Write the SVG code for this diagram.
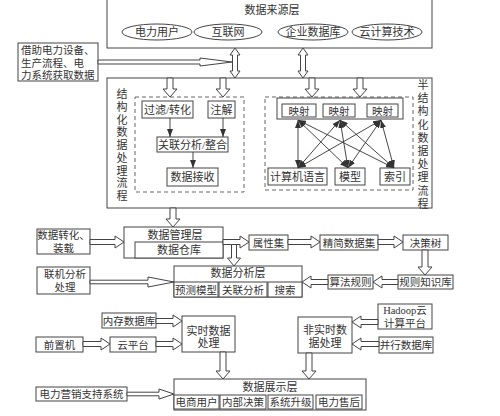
<svg xmlns="http://www.w3.org/2000/svg" width="500" height="416" viewBox="0 0 500 416">
<defs>
<marker id="ah" viewBox="0 0 8 6" refX="8" refY="3" markerWidth="8" markerHeight="6" markerUnits="userSpaceOnUse" orient="auto-start-reverse">
<path d="M0,0 L8,3 L0,6 Z" fill="#333"/>
</marker>
<style>
rect,ellipse{fill:#fff;stroke:#444;stroke-width:1}
.dash{fill:none;stroke:#666;stroke-dasharray:4 3}
.ha{fill:#fff;stroke:#444;stroke-width:1}
.tl{stroke:#333;stroke-width:0.9;fill:none}
text{font-family:"Liberation Serif","Noto Sans CJK SC",serif;font-size:11px;fill:#333;text-anchor:middle}
.s{font-size:10.5px}
.l{text-anchor:start}
</style>
</defs>
<rect width="500" height="416" style="fill:#fff;stroke:none"/>

<g id="source-layer">
<rect x="107" y="-1" width="325" height="49"/>
<text x="272" y="14">数据来源层</text>
<ellipse cx="157" cy="32" rx="35" ry="8"/><text x="157" y="36">电力用户</text>
<ellipse cx="228" cy="32" rx="34" ry="8"/><text x="228" y="36">互联网</text>
<ellipse cx="313" cy="32" rx="35" ry="8"/><text x="313" y="36">企业数据库</text>
<ellipse cx="387" cy="32" rx="35" ry="8"/><text x="387" y="36">云计算技术</text>
</g>

<g id="acquire">
<rect x="18" y="43" width="80" height="38"/>
<text class="s l" x="21" y="54">借助电力设备、</text>
<text class="s l" x="21" y="66.5">生产流程、电</text>
<text class="s l" x="21" y="79">力系统获取数据</text>
</g>

<g id="processing">
<rect x="107" y="78" width="325" height="130"/>
<text x="122"><tspan x="122" y="98">结</tspan><tspan x="122" y="110.8">构</tspan><tspan x="122" y="123.5">化</tspan><tspan x="122" y="136.3">数</tspan><tspan x="122" y="149">据</tspan><tspan x="122" y="161.8">处</tspan><tspan x="122" y="174.5">理</tspan><tspan x="122" y="187.3">流</tspan><tspan x="122" y="200">程</tspan></text>
<text x="423"><tspan x="423" y="89">半</tspan><tspan x="423" y="102.2">结</tspan><tspan x="423" y="115.4">构</tspan><tspan x="423" y="128.6">化</tspan><tspan x="423" y="141.8">数</tspan><tspan x="423" y="155">据</tspan><tspan x="423" y="168.2">处</tspan><tspan x="423" y="181.4">理</tspan><tspan x="423" y="194.6">流</tspan><tspan x="423" y="207.8">程</tspan></text>
<rect class="dash" x="135" y="97" width="109" height="95"/>
<rect class="dash" x="265" y="97" width="148" height="93"/>
</g>

<g id="filter"><rect x="142" y="101" width="51" height="17"/><text x="167.5" y="113.5">过滤/转化</text></g>
<g id="annotate"><rect x="208" y="101" width="27" height="17"/><text x="221.5" y="113.5">注解</text></g>
<g id="correlate"><rect x="157" y="137" width="71" height="15"/><text x="192.5" y="148.5">关联分析/整合</text></g>
<g id="receive"><rect x="167" y="168" width="51" height="18"/><text x="192.5" y="181">数据接收</text></g>

<g id="mapping">
<rect x="277" y="98" width="126" height="21"/>
<rect x="282" y="104" width="34" height="13"/><text class="s" x="299" y="114.5">映射</text>
<rect x="323" y="104" width="32" height="13"/><text class="s" x="339" y="114.5">映射</text>
<rect x="367" y="104" width="31" height="13"/><text class="s" x="382.5" y="114.5">映射</text>
</g>
<g id="lang"><rect x="268" y="168" width="59" height="17"/><text x="297.5" y="180.5">计算机语言</text></g>
<g id="model"><rect x="335" y="168" width="30" height="17"/><text x="350" y="180.5">模型</text></g>
<g id="index"><rect x="380" y="168" width="30" height="17"/><text x="395" y="180.5">索引</text></g>

<g id="manage-layer">
<rect x="124" y="227" width="99" height="31"/>
<text x="175" y="239">数据管理层</text>
<rect x="135" y="242" width="88" height="16"/>
<text x="179" y="254">数据仓库</text>
</g>
<g id="transform"><rect x="37" y="229" width="53" height="25"/><text class="s" x="63.5" y="239">数据转化、</text><text class="s" x="63.5" y="252">装载</text></g>
<g id="olap"><rect x="37" y="267" width="53" height="27"/><text class="s" x="65" y="278">联机分析</text><text class="s" x="65" y="291">处理</text></g>
<g id="attr"><rect x="249" y="235" width="39" height="15"/><text class="s" x="268.5" y="246.5">属性集</text></g>
<g id="reduced"><rect x="320" y="235" width="58" height="15"/><text class="s" x="349" y="246.5">精简数据集</text></g>
<g id="tree"><rect x="403" y="235" width="45" height="15"/><text class="s" x="425.5" y="246.5">决策树</text></g>
<g id="rulebase"><rect x="398" y="275" width="55" height="14"/><text class="s" x="425.5" y="286">规则知识库</text></g>
<g id="algo"><rect x="328" y="275" width="45" height="14"/><text class="s" x="350.5" y="286">算法规则</text></g>

<g id="analysis-layer">
<rect x="174" y="266" width="128" height="31"/>
<text x="238" y="277">数据分析层</text>
<rect x="174" y="282" width="44" height="15"/><text class="s" x="196" y="293.5">预测模型</text>
<rect x="219" y="282" width="48" height="15"/><text class="s" x="243" y="293.5">关联分析</text>
<rect x="268" y="282" width="34" height="15"/><text class="s" x="285" y="293.5">搜索</text>
</g>

<g id="memdb"><rect x="102" y="313" width="54" height="15"/><text class="s" x="129" y="324.5">内存数据库</text></g>
<g id="realtime"><rect x="182" y="316" width="53" height="36"/><text x="208.5" y="335">实时数据</text><text x="208.5" y="347">处理</text></g>
<g id="frontend"><rect x="36" y="337" width="47" height="15"/><text class="s" x="59.5" y="348.5">前置机</text></g>
<g id="cloud"><rect x="110" y="337" width="46" height="15"/><text class="s" x="133" y="348.5">云平台</text></g>
<g id="hadoop"><rect x="378" y="304" width="54" height="25"/><text class="s" x="405" y="313.5">Hadoop云</text><text class="s" x="405" y="327">计算平台</text></g>
<g id="nonrealtime"><rect x="298" y="317" width="54" height="36"/><text x="325" y="334">非实时数</text><text x="325" y="347">据处理</text></g>
<g id="paralleldb"><rect x="379" y="337" width="54" height="16"/><text class="s" x="406" y="349">并行数据库</text></g>
<g id="marketing"><rect x="36" y="387" width="91" height="14"/><text class="s" x="81.5" y="398">电力营销支持系统</text></g>

<g id="display-layer">
<rect x="174" y="379" width="192" height="31"/>
<text x="270" y="391">数据展示层</text>
<rect x="174" y="395" width="45" height="14"/><text class="s" x="196.5" y="406">电商用户</text>
<rect x="220" y="395" width="46" height="14"/><text class="s" x="243" y="406">内部决策</text>
<rect x="268" y="395" width="45" height="14"/><text class="s" x="290.5" y="406">系统升级</text>
<rect x="316" y="395" width="46" height="14"/><text class="s" x="339" y="406">电力售后</text>
</g>

<g id="connectors">
<polygon class="ha" points="98,60 200,60 200,58 232,62 200,66 200,64 98,64"/>
<polygon class="ha" points="235,48 240,55 237.5,55 237.5,71 240,71 235,78 230,71 232.5,71 232.5,55 230,55"/>
<polygon class="ha" points="303,48 308,55 305.5,55 305.5,71 308,71 303,78 298,71 300.5,71 300.5,55 298,55"/>
<polygon class="ha" points="167,78 173,78 173,89 177,89 170,97 163,89 167,89"/>
<polygon class="ha" points="220,78 226,78 226,89 230,89 223,97 216,89 220,89"/>
<polygon class="ha" points="309,78 315,78 315,89 319,89 312,97 305,89 309,89"/>
<polygon class="ha" points="357,78 363,78 363,89 367,89 360,97 353,89 357,89"/>
<line class="tl" x1="170" y1="118" x2="170" y2="137" marker-end="url(#ah)"/>
<line class="tl" x1="223" y1="118" x2="223" y2="137" marker-end="url(#ah)"/>
<line class="tl" x1="193" y1="152" x2="193" y2="168" marker-end="url(#ah)"/>
<line class="tl" x1="298" y1="120" x2="298" y2="168" marker-start="url(#ah)" marker-end="url(#ah)"/>
<line class="tl" x1="298" y1="120" x2="348" y2="168" marker-start="url(#ah)" marker-end="url(#ah)"/>
<line class="tl" x1="298" y1="120" x2="394" y2="168" marker-start="url(#ah)" marker-end="url(#ah)"/>
<line class="tl" x1="340" y1="120" x2="298" y2="168" marker-start="url(#ah)" marker-end="url(#ah)"/>
<line class="tl" x1="340" y1="120" x2="348" y2="168" marker-start="url(#ah)" marker-end="url(#ah)"/>
<line class="tl" x1="340" y1="120" x2="394" y2="168" marker-start="url(#ah)" marker-end="url(#ah)"/>
<line class="tl" x1="381" y1="120" x2="298" y2="168" marker-start="url(#ah)" marker-end="url(#ah)"/>
<line class="tl" x1="381" y1="120" x2="348" y2="168" marker-start="url(#ah)" marker-end="url(#ah)"/>
<line class="tl" x1="381" y1="120" x2="394" y2="168" marker-start="url(#ah)" marker-end="url(#ah)"/>
<polygon class="ha" points="170,208 176,208 176,219 180,219 173,227 166,219 170,219"/>
<polygon class="ha" points="90,239.5 115,239.5 115,236 124,242 115,248 115,244.5 90,244.5"/>
<polygon class="ha" points="223,239.5 240,239.5 240,236 249,242 240,248 240,244.5 223,244.5"/>
<polygon class="ha" points="231.5,244.5 236.5,244.5 236.5,258 240.5,258 234,266 227.5,258 231.5,258"/>
<polygon class="ha" points="90,280.2 148,280.2 148,277 174,282 148,287 148,283.8 90,283.8"/>
<polygon class="ha" points="288,239.5 311,239.5 311,236 320,242 311,248 311,244.5 288,244.5"/>
<polygon class="ha" points="378,239.5 394,239.5 394,236 403,242 394,248 394,244.5 378,244.5"/>
<polygon class="ha" points="422,250 428,250 428,267 432,267 425,275 418,267 422,267"/>
<polygon class="ha" points="398,279.5 382,279.5 382,276 373,282 382,288 382,284.5 398,284.5"/>
<polygon class="ha" points="328,279.5 311,279.5 311,276 302,282 311,288 311,284.5 328,284.5"/>
<polygon class="ha" points="156,318.5 173,318.5 173,315 182,321 173,327 173,323.5 156,323.5"/>
<polygon class="ha" points="83,341.5 101,341.5 101,338 110,344 101,350 101,346.5 83,346.5"/>
<polygon class="ha" points="156,341.5 173,341.5 173,338 182,344 173,350 173,346.5 156,346.5"/>
<polygon class="ha" points="220,352 226,352 226,371 230,371 223,379 216,371 220,371"/>
<polygon class="ha" points="306,353 312,353 312,371 316,371 309,379 302,371 306,371"/>
<polygon class="ha" points="378,319.5 361,319.5 361,316 352,322 361,328 361,324.5 378,324.5"/>
<polygon class="ha" points="379,341.5 361,341.5 361,338 352,344 361,350 361,346.5 379,346.5"/>
<polygon class="ha" points="127,392.2 159,392.2 159,389 174,394 159,399 159,395.8 127,395.8"/>
</g>
</svg>
